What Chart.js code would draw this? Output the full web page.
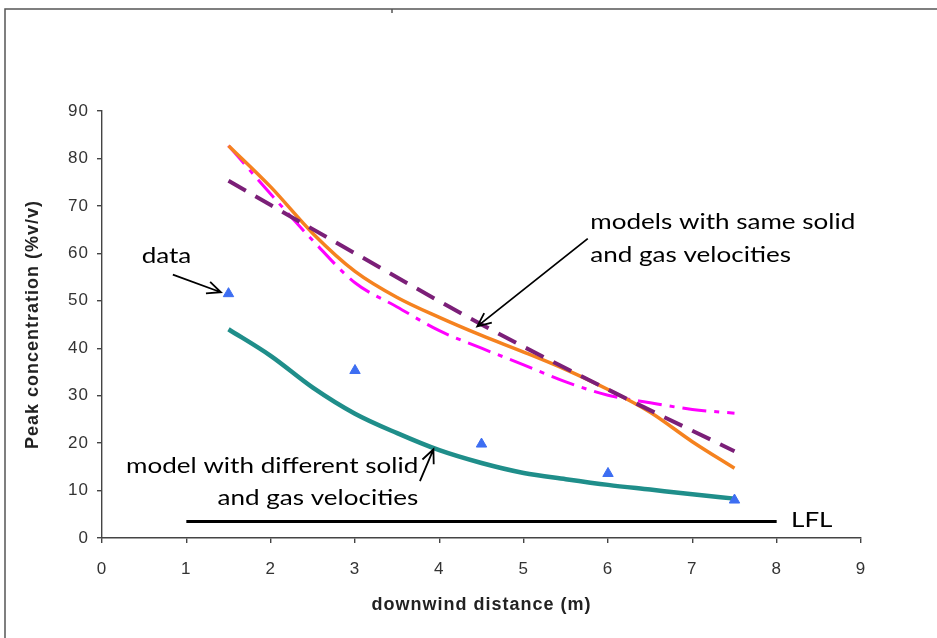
<!DOCTYPE html>
<html>
<head>
<meta charset="utf-8">
<script src="https://cdn.jsdelivr.net/npm/chart.js@4.4.1/dist/chart.umd.min.js"></script>
<style>
  html, body { margin: 0; padding: 0; background: #fff; }
  #wrap { width: 937px; height: 638px; }
</style>
</head>
<body>
<div id="wrap"><canvas id="chartPeak" width="937" height="638"></canvas></div>
<script>
// ---- data ----
// model curves are sampled every 0.5 m
const distances = [1.5, 2, 2.5, 3, 3.5, 4, 4.5, 5, 5.5, 6, 6.5, 7, 7.5];

// measured peaks (blue triangles)
const dataDist = [1.5, 3, 4.5, 6, 7.5];
const dataPeak = [51.5, 35.3, 19.8, 13.6, 8.0];

// models with same solid and gas velocities
const modelOrange  = [82.7, 74.0, 64.2, 56.2, 50.7, 46.5, 42.7, 39.2, 35.5, 31.3, 26.5, 20.3, 14.7];
const modelMagenta = [82.7, 72.5, 62.7, 53.8, 48.7, 43.7, 40.0, 36.5, 32.9, 30.1, 28.5, 27.1, 26.3];
const purpleDist   = [1.5, 3, 4.5, 6, 7.5];
const modelPurple  = [75.3, 60.0, 45.0, 31.3, 18.3];

// model with different solid and gas velocities
const modelTeal = [44.0, 38.4, 31.7, 26.2, 22.1, 18.5, 15.8, 13.7, 12.4, 11.2, 10.2, 9.2, 8.3];

// lower flammability limit
const lflDist  = [1, 8];
const lflValue = [3.5, 3.5];

// axis ticks
const xTicks = [0, 1, 2, 3, 4, 5, 6, 7, 8, 9];
const yTicks = [0, 10, 20, 30, 40, 50, 60, 70, 80, 90];

const toPoints = (xs, ys) => xs.map((x, i) => ({ x: x, y: ys[i] }));

// ---- frame, arrows and text notes ----
function arrow(ctx, x1, y1, x2, y2) {
  const a = Math.atan2(y2 - y1, x2 - x1);
  const h = 15, w = 0.42;
  ctx.beginPath();
  ctx.moveTo(x1, y1);
  ctx.lineTo(x2, y2);
  ctx.moveTo(x2 - h * Math.cos(a - w), y2 - h * Math.sin(a - w));
  ctx.lineTo(x2, y2);
  ctx.lineTo(x2 - h * Math.cos(a + w), y2 - h * Math.sin(a + w));
  ctx.stroke();
}

const notesPlugin = {
  id: "notes",
  beforeDraw(chart) {
    const ctx = chart.ctx;
    ctx.save();
    ctx.fillStyle = "#fff";
    ctx.fillRect(0, 0, chart.width, chart.height);
    ctx.strokeStyle = "#555";
    ctx.lineWidth = 1.5;
    ctx.beginPath();
    ctx.moveTo(5, chart.height);
    ctx.lineTo(5, 9);
    ctx.lineTo(chart.width, 9);
    ctx.moveTo(392, 9);
    ctx.lineTo(392, 13);
    ctx.stroke();
    ctx.restore();
    // Chart.js text a bit wider, like the original export
    ctx.letterSpacing = "1px";
  },
  afterDraw(chart) {
    const ctx = chart.ctx;
    const X = v => chart.scales.x.getPixelForValue(v);
    const Y = v => chart.scales.y.getPixelForValue(v);
    ctx.save();
    ctx.letterSpacing = "0px";
    ctx.strokeStyle = "#000";
    ctx.fillStyle = "#000";
    ctx.lineWidth = 1.8;

    arrow(ctx, X(0.84), Y(55.5), X(1.41), Y(51.8));
    arrow(ctx, X(5.76), Y(63.1), X(4.45), Y(44.6));
    arrow(ctx, X(3.77), Y(12.0), X(3.93), Y(18.7));

    ctx.font = "21px Lato, 'Open Sans', sans-serif";
    const k = 265 / ctx.measureText("models with same solid").width;
    const put = (text, x, y, align) => {
      ctx.save();
      ctx.translate(x, y);
      ctx.scale(k, 1);
      ctx.textAlign = align;
      ctx.textBaseline = "alphabetic";
      ctx.fillText(text, 0, 0);
      ctx.restore();
    };
    put("data", X(0.47), Y(57.9), "left");
    put("models with same solid", X(5.79), Y(65.2), "left");
    put("and gas velocities", X(5.79), Y(58.1), "left");
    put("model with different solid", X(3.75), Y(13.7), "right");
    put("and gas velocities", X(3.75), Y(6.9), "right");
    put("LFL", X(8.17), Y(2.3), "left");
    ctx.restore();
  }
};

const axisFont = { family: "'Liberation Sans', Arial, sans-serif", size: 17 };
const titleFont = { family: "'Liberation Sans', Arial, sans-serif", size: 18, weight: "bold" };

new Chart(document.getElementById("chartPeak"), {
  type: "scatter",
  data: {
    datasets: [
      {
        label: "data",
        data: toPoints(dataDist, dataPeak),
        pointStyle: "triangle",
        pointRadius: 6,
        backgroundColor: "#3D6EF2",
        borderColor: "#3D6EF2",
        borderWidth: 1
      },
      {
        label: "LFL",
        data: toPoints(lflDist, lflValue),
        showLine: true,
        borderColor: "#000",
        borderWidth: 3,
        pointRadius: 0
      },
      {
        label: "model (purple)",
        data: toPoints(purpleDist, modelPurple),
        showLine: true,
        borderColor: "#7B1F78",
        borderWidth: 4,
        borderDash: [20, 11],
        cubicInterpolationMode: "monotone",
        pointRadius: 0
      },
      {
        label: "model (orange)",
        data: toPoints(distances, modelOrange),
        showLine: true,
        borderColor: "#F5821F",
        borderWidth: 3.5,
        cubicInterpolationMode: "monotone",
        pointRadius: 0
      },
      {
        label: "model (magenta)",
        data: toPoints(distances, modelMagenta),
        showLine: true,
        borderColor: "#FF00FF",
        borderWidth: 3,
        borderDash: [24, 8, 5, 8],
        cubicInterpolationMode: "monotone",
        pointRadius: 0
      },
      {
        label: "model (different velocities)",
        data: toPoints(distances, modelTeal),
        showLine: true,
        borderColor: "#1F8E8A",
        borderWidth: 4.5,
        cubicInterpolationMode: "monotone",
        pointRadius: 0
      }
    ]
  },
  options: {
    responsive: false,
    animation: false,
    devicePixelRatio: 1,
    layout: { padding: { left: 10, right: 76, top: 111, bottom: 10 } },
    plugins: {
      legend: { display: false },
      tooltip: { enabled: false }
    },
    scales: {
      x: {
        type: "linear",
        min: 0,
        max: 9,
        afterBuildTicks: s => { s.ticks = xTicks.map(v => ({ value: v })); },
        afterFit: s => { s.height = 90; },
        border: { display: true, color: "#444", width: 1.4 },
        grid: { drawOnChartArea: false, drawTicks: true, tickLength: 5, color: "#444", lineWidth: 1.4 },
        ticks: { color: "#333", font: axisFont, padding: 16, maxRotation: 0 },
        title: {
          display: true,
          text: "downwind distance (m)",
          color: "#222",
          font: titleFont,
          padding: { top: 0, bottom: 12.2 }
        }
      },
      y: {
        min: 0,
        max: 90,
        afterBuildTicks: s => { s.ticks = yTicks.map(v => ({ value: v })); },
        afterFit: s => { s.width = 92; },
        border: { display: true, color: "#444", width: 1.4 },
        grid: { drawOnChartArea: false, drawTicks: true, tickLength: 5, color: "#444", lineWidth: 1.4 },
        ticks: { color: "#333", font: axisFont, padding: 8 },
        title: {
          display: true,
          text: "Peak concentration (%v/v)",
          color: "#222",
          font: titleFont,
          padding: { top: 12.2, bottom: 0 }
        }
      }
    }
  },
  plugins: [notesPlugin]
});
</script>
</body>
</html>
